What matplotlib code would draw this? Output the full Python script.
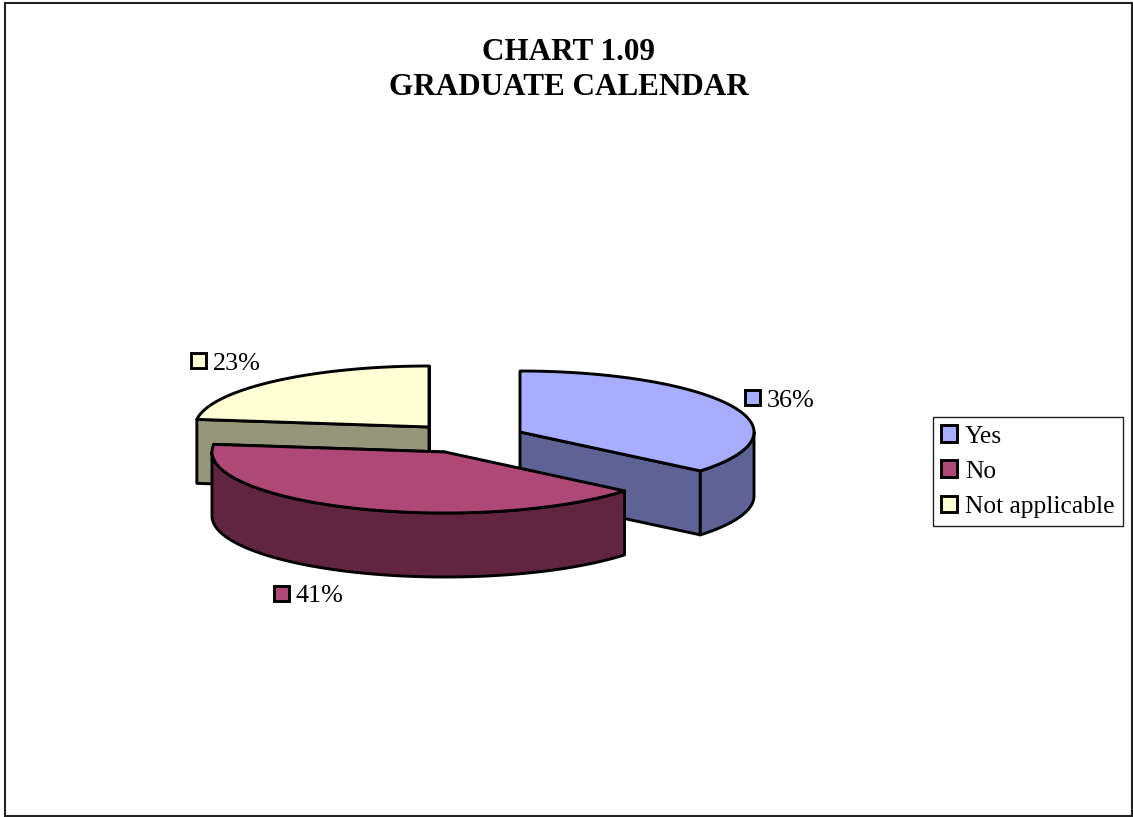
import numpy as np
import matplotlib
matplotlib.use("Agg")
import matplotlib.pyplot as plt
from matplotlib.patches import Polygon, Rectangle, Patch

categories = ["Yes", "No", "Not applicable"]
values = [36, 41, 23]
top_colors = ["#A8ADFF", "#AE4877", "#FFFFD5"]
side_colors = ["#5F6295", "#622540", "#95957A"]
title_lines = ["CHART 1.09", "GRADUATE CALENDAR"]

# layout, in pixels
W, H = 1133, 817
RXS = [234, 233, 234]
RY, DEPTH = 61, 64
centers = [(520, 432), (445, 452), (429, 427)]
label_keys = [(745, 390), (274, 586), (191, 353)]
INK = "#000000"
LW = 2.1
SERIF = "Liberation Serif"

fig = plt.figure(figsize=(W / 100, H / 100), dpi=100, facecolor="white")
ax = fig.add_axes([0, 0, 1, 1])
ax.set_xlim(0, W)
ax.set_ylim(H, 0)
ax.axis("off")

ax.add_patch(Rectangle((5, 3), 1127, 813, fc="white", ec="#222222", lw=1.5, zorder=0))


def rim(c, rx, a0, a1, n=120):
    """Points on the ellipse; angles are degrees clockwise from 12 o'clock."""
    t = np.radians(np.linspace(a0, a1, n))
    return np.column_stack([c[0] + rx * np.sin(t), c[1] - RY * np.cos(t)])


def poly(pts, fc, z):
    ax.add_patch(Polygon(pts, closed=True, fc=fc, ec=INK, lw=LW, joinstyle="round", zorder=z))


edges = np.concatenate([[0], np.cumsum(values)]) * 3.6
z_order = {2: 1, 0: 2, 1: 3}  # back slices first

for i, cat in enumerate(categories):
    c, rx, a0, a1 = centers[i], RXS[i], edges[i], edges[i + 1]
    z = z_order[i]
    down = np.array([0, DEPTH])
    apex = np.array(c, float)
    # flat cut walls that face the viewer
    for ang, is_end in ((a0, False), (a1, True)):
        end = rim(c, rx, ang, ang, 1)[0]
        faces_viewer = (is_end and (90 < ang < 180 or ang > 270)) or (not is_end and ang > 180)
        if faces_viewer:
            poly([apex, end, end + down, apex + down], side_colors[i], z)
    # outer curved wall: only its front half shows
    lo, hi = max(a0, 90), min(a1, 270)
    if lo < hi:
        arc = rim(c, rx, lo, hi)
        poly(np.vstack([arc, (arc + down)[::-1]]), side_colors[i], z)
    # top face
    poly(np.vstack([[apex], rim(c, rx, a0, a1)]), top_colors[i], z + 0.5)
    # data label with its colour key
    kx, ky = label_keys[i]
    ax.add_patch(Rectangle((kx, ky), 15, 15, fc=top_colors[i], ec=INK, lw=LW, zorder=5))
    ax.text(kx + 22, ky + 8, f"{values[i]}%", family=SERIF, fontsize=18.8, color="black",
            ha="left", va="center_baseline", zorder=5)

for line, y in zip(title_lines, (49, 84)):
    ax.text(569, y, line, family=SERIF, fontsize=22.4, fontweight="bold", color="black",
            ha="center", va="center_baseline", zorder=5)

handles = [Patch(fc=f, ec=INK, lw=LW) for f in top_colors]
leg = ax.legend(handles, categories, loc="upper left", bbox_to_anchor=(933, 417),
                bbox_transform=ax.transData, frameon=True, fancybox=False, framealpha=1,
                edgecolor="#222222", prop={"family": SERIF, "size": 18.4},
                handlelength=0.62, handleheight=0.62, handletextpad=0.3,
                borderaxespad=0, borderpad=0.33, labelspacing=0.5)
leg.get_frame().set_linewidth(1.0)
leg.set_zorder(6)

fig.savefig("out.png", dpi=100, facecolor="white")
